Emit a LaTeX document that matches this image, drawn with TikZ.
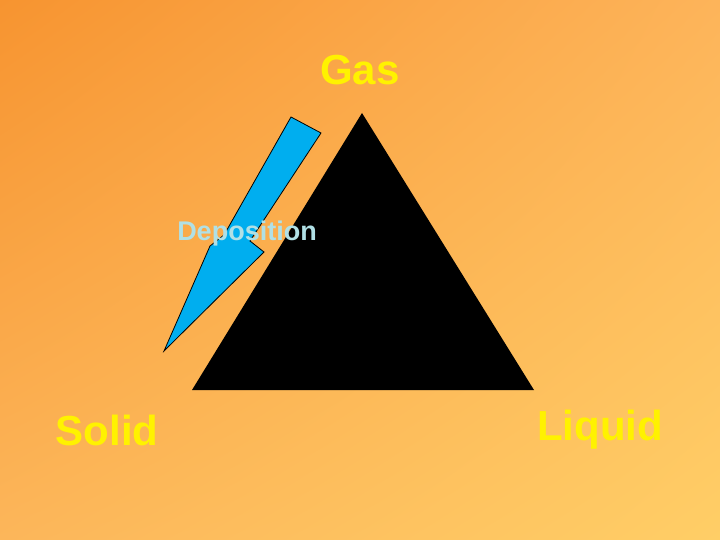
\documentclass[tikz,border=0pt]{standalone}
\usepackage{fontspec}
\usetikzlibrary{shadings}
\setmainfont{Liberation Sans}
\definecolor{cUL}{RGB}{247,148,48}
\definecolor{cUR}{RGB}{253,180,90}
\definecolor{cLL}{RGB}{252,182,90}
\definecolor{cLR}{RGB}{255,206,102}
\definecolor{arrblue}{RGB}{0,174,239}
\definecolor{deptext}{RGB}{176,224,230}
\begin{document}
\begin{tikzpicture}[x=1pt,y=-1pt,
  lbl/.style={text=yellow,font=\bfseries\fontsize{42}{44}\selectfont,inner sep=0pt}]
\useasboundingbox (0,0) rectangle (720,540);
\shade[upper left=cUL,upper right=cUR,lower left=cLL,lower right=cLR]
  (0,0) rectangle (720,540);
\fill[black] (362,113) coordinate (apex) -- (534,390) coordinate (br) -- (192,390) coordinate (bl) -- cycle;
\filldraw[fill=arrblue,draw=black,line width=0.8pt]
  (291,117) -- (321,133) -- (250,241) -- (264,252) -- (164,351) -- (210,246) -- (224,235) -- cycle;
\node[lbl] (gas) at (360,70) {Gas};
\node[lbl] (solid) at (107,430) {Solid};
\node[lbl] (liquid) at (600,430) {Liquid};
\node[text=deptext,font=\bfseries\fontsize{27}{29}\selectfont,inner sep=0pt] (dep) at (247,234) {Deposition};
\end{tikzpicture}
\end{document}
